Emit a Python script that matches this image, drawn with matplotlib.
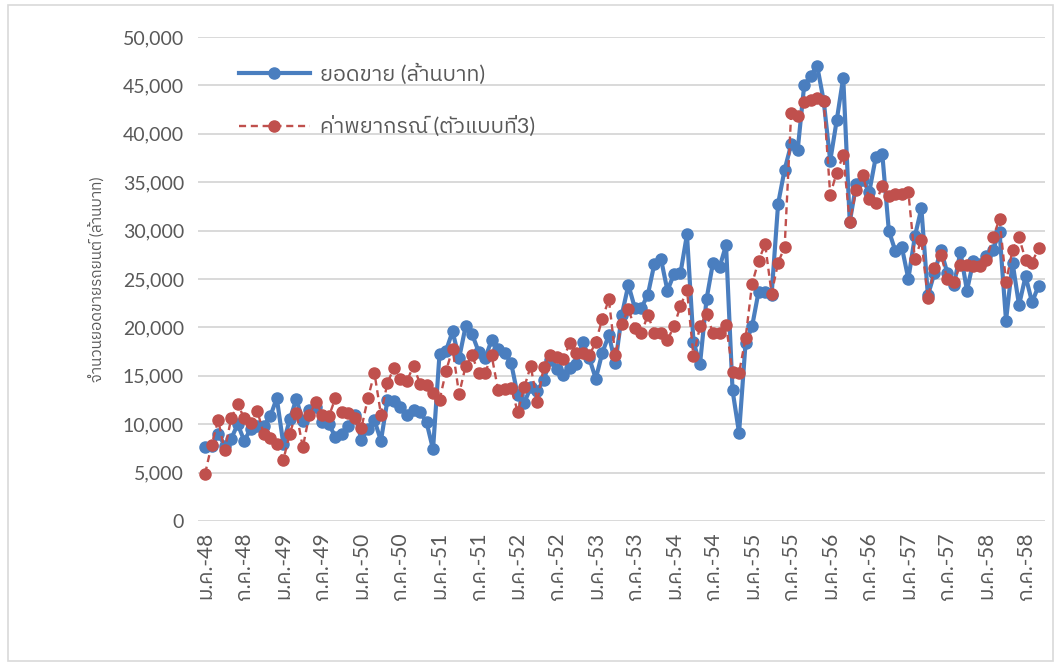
import matplotlib
matplotlib.use("Agg")
import matplotlib.pyplot as plt
from matplotlib import font_manager
from matplotlib.patches import Rectangle
from matplotlib.ticker import FuncFormatter

# Monthly car sales (million baht), Jan 2005 (ม.ค.-48) onward
sales = [
    7600, 7700, 9000, 7800, 8500, 10000, 8300, 9500, 9800, 9800, 10800, 12700,
    8000, 10500, 12600, 10300, 11500, 11800, 10200, 10000, 8700, 9000, 9800, 11000,
    8400, 9500, 10400, 8300, 12500, 12400, 11800, 11000, 11500, 11300, 10200, 7400,
    17300, 17600, 19600, 16800, 20100, 19300, 17500, 16800, 18700, 17800, 17400, 16300,
    13000, 12200, 13800, 13400, 14600, 16600, 15700, 15100, 15800, 16200, 18500, 16800,
    14700, 17400, 19200, 16300, 21300, 24400, 22000, 22000, 23400, 26600, 27100, 23800,
    25500, 25600, 29600, 18500, 16200, 22900, 26700, 26200, 28500, 13500, 9100, 18400,
    20100, 23700, 23700, 23400, 32800, 36300, 38900, 38300, 45000, 46000, 47000, 43400,
    37200, 41400, 45800, 30900, 34800, 35200, 34000, 37600, 37900, 30000, 27900, 28300,
    25000, 29400, 32300, 23300, 25600, 28000, 25600, 24400, 27800, 23800, 26900, 26600,
    27400, 28000, 29900, 20700, 26700, 22300, 25300, 22600, 24300,
]

# Forecast values from model 3
forecast = [
    4900, 7900, 10400, 7300, 10600, 12100, 10600, 10100, 11400, 9000, 8600, 8000,
    6300, 9000, 11200, 7600, 11000, 12300, 11000, 10800, 12700, 11300, 11200, 10600,
    9600, 12700, 15300, 11000, 14300, 15800, 14700, 14500, 16000, 14200, 14000, 13200,
    12500, 15500, 17800, 13100, 16000, 17100, 15300, 15300, 17100, 13500, 13600, 13700,
    11300, 13800, 16000, 12300, 15900, 17200, 16900, 16700, 18400, 17400, 17400, 17100,
    18500, 20900, 22900, 17100, 20400, 21900, 19900, 19400, 21300, 19400, 19400, 18700,
    20100, 22200, 23900, 17000, 20100, 21400, 19400, 19400, 20300, 15400, 15300, 18900,
    24500, 26900, 28600, 23500, 26700, 28300, 42100, 41800, 43300, 43500, 43700, 43400,
    33700, 36000, 37800, 30900, 34200, 35700, 33300, 32900, 34600, 33600, 33800, 33800,
    34000, 27100, 29000, 23000, 26100, 27500, 25000, 24700, 26500, 26400, 26300, 26300,
    27000, 29300, 31200, 24700, 28000, 29300, 27000, 26700, 28200,
]

tick_months = ["ม.ค.", "ก.ค."]
tick_years = list(range(48, 59))
tick_labels = [f"{m}-{y}" for y in tick_years for m in tick_months]

series_label_sales = "ยอดขาย (ล้านบาท)"
series_label_forecast = "ค่าพยากรณ์ (ตัวแบบที่3)"
y_title = "จำนวนยอดขายรถยนต์ (ล้านบาท)"


def _covers_thai(path):
    try:
        from fontTools.ttLib import TTFont
        f = TTFont(path, fontNumber=0, lazy=True)
        cmap = f.getBestCmap() or {}
        return ord("ก") in cmap and ord("ย") in cmap
    except Exception:
        return False


thai_families = []
for fe in font_manager.fontManager.ttflist:
    if fe.name not in thai_families and _covers_thai(fe.fname):
        thai_families.append(fe.name)
thai_families.sort(key=lambda n: (0 if "Sans" in n else 1, n))

families = ["Lato"] + thai_families[:1] + ["DejaVu Sans"]
plt.rcParams["font.family"] = families

text_gray = "#595959"
grid_gray = "#d9d9d9"
blue = "#4a7ebf"
red = "#c0504d"

fig = plt.figure(figsize=(10.61, 6.66), dpi=100)
fig.patches.append(Rectangle((0.008, 0.008), 0.984, 0.984, transform=fig.transFigure,
                             fill=False, edgecolor="#d9d9d9", linewidth=1.2))
ax = fig.add_axes([0.1866, 0.2177, 0.7984, 0.7267])

x = list(range(len(sales)))
ax.plot(x, sales, color=blue, linewidth=3.0, marker="o", markersize=8,
        markerfacecolor=blue, markeredgecolor=blue, label=series_label_sales, zorder=3)
ax.plot(x, forecast, color=red, linewidth=1.7, linestyle=(0, (3, 2)), marker="o",
        markersize=8, markerfacecolor=red, markeredgecolor=red,
        label=series_label_forecast, zorder=4)

ax.set_xlim(-1.1, 129)
ax.set_ylim(0, 50000)
ax.set_yticks(range(0, 50001, 5000))
ax.yaxis.set_major_formatter(FuncFormatter(lambda v, p: f"{int(v):,}"))
ax.set_xticks(range(0, 6 * len(tick_labels), 6))
ax.set_xticklabels(tick_labels, rotation=90)

ax.grid(axis="y", color=grid_gray, linewidth=1.4)
ax.set_axisbelow(True)
for s in ["top", "right", "left", "bottom"]:
    ax.spines[s].set_visible(False)
ax.tick_params(axis="both", length=0, colors=text_gray)
ax.tick_params(axis="y", pad=10, labelsize=14)
ax.tick_params(axis="x", pad=8, labelsize=15)

ax.set_ylabel(y_title, color=text_gray, fontsize=11, labelpad=12)

leg = ax.legend(loc="upper left", bbox_to_anchor=(0.025, 0.985), frameon=False,
                fontsize=15.5, labelspacing=1.45, handlelength=3.3, handletextpad=0.5,
                labelcolor=text_gray)

fig.savefig("out.png", dpi=100)
